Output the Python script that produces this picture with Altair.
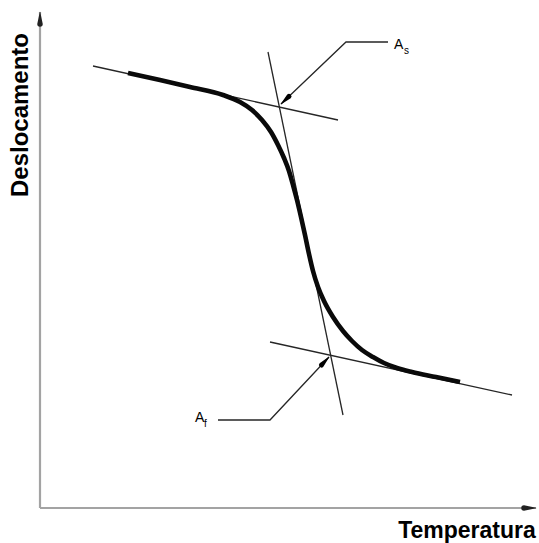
import math

import altair as alt
import pandas as pd

# Schematic transformation curve: displacement vs temperature (arbitrary units)
curve_t = [88, 120, 150, 183, 200, 212, 222, 231, 238, 244, 249, 253, 257, 261,
           265, 269, 273, 278, 284, 293, 303, 312, 322, 333, 344, 357, 372, 396, 420]
curve_d = [435, 428, 421, 413, 406, 398, 388, 376, 363, 350, 337, 323, 308, 291,
           273, 254, 237, 221, 207, 191, 177, 167, 158, 151, 145, 140, 136, 131, 126]

# Construction lines (tangents) as end points
upper_t, upper_d = [53, 298], [442, 388]
lower_t, lower_d = [230, 472], [166, 113]
steep_t, steep_d = [228, 303], [456, 93]

# Leader lines pointing at the two intersections (first point is the tip)
as_lead_t, as_lead_d = [241, 306, 348], [404, 466, 466]
af_lead_t, af_lead_d = [289, 230, 178], [151, 88, 88]

# Axes with arrows (first point is the tip)
yaxis_t, yaxis_d = [0, 0], [496, 0]
xaxis_t, xaxis_d = [496, 0], [0, 0]

X = alt.Scale(domain=[-40, 499], nice=False, zero=False)
Y = alt.Scale(domain=[-35, 508], nice=False, zero=False)


def line_layer(ts, ds, color, width, interp="linear"):
    df = pd.DataFrame({"t": ts, "d": ds, "o": range(len(ts))})
    return alt.Chart(df).mark_line(
        color=color, strokeWidth=width, interpolate=interp, strokeCap="butt"
    ).encode(
        x=alt.X("t:Q", scale=X, axis=None),
        y=alt.Y("d:Q", scale=Y, axis=None),
        order="o:Q",
    )


def arrow_head(ts, ds, color, length, width):
    """Tapered wedge at the first point of a polyline, pointing outward."""
    dt, dd = ts[1] - ts[0], ds[1] - ds[0]
    n = math.hypot(dt, dd)
    back_t = ts[0] + dt / n * length
    back_d = ds[0] + dd / n * length
    df = pd.DataFrame({"t": [ts[0], back_t], "d": [ds[0], back_d],
                       "w": [0.5, width], "o": [0, 1]})
    return alt.Chart(df).mark_trail(color=color).encode(
        x=alt.X("t:Q", scale=X, axis=None),
        y=alt.Y("d:Q", scale=Y, axis=None),
        size=alt.Size("w:Q", scale=None, legend=None),
        order="o:Q",
    )


def text_layer(label, t, d, size, weight="normal", angle=0, align="left"):
    df = pd.DataFrame({"t": [t], "d": [d], "label": [label]})
    return alt.Chart(df).mark_text(
        font="Liberation Sans", fontSize=size, fontWeight=weight,
        angle=angle, align=align, baseline="alphabetic", color="#000000",
    ).encode(
        x=alt.X("t:Q", scale=X, axis=None),
        y=alt.Y("d:Q", scale=Y, axis=None),
        text="label:N",
    )


axes = line_layer(yaxis_t, yaxis_d, "#a3a3a3", 2.2) + line_layer(xaxis_t, xaxis_d, "#a3a3a3", 2.2)

tangents = (
    line_layer(upper_t, upper_d, "#262626", 1.3)
    + line_layer(lower_t, lower_d, "#262626", 1.3)
    + line_layer(steep_t, steep_d, "#262626", 1.3)
)

leaders = line_layer(as_lead_t, as_lead_d, "#262626", 1.3) + line_layer(af_lead_t, af_lead_d, "#262626", 1.3)

curve = line_layer(curve_t, curve_d, "#0a0a0a", 4.6, interp="monotone")

arrows = (
    arrow_head(yaxis_t, yaxis_d, "#222222", 12, 5.5)
    + arrow_head(xaxis_t, xaxis_d, "#222222", 12, 5.5)
    + arrow_head(as_lead_t, as_lead_d, "#000000", 11, 5)
    + arrow_head(af_lead_t, af_lead_d, "#000000", 11, 5)
)

labels = (
    text_layer("Temperatura", 427, -30, 23, weight="bold", align="center")
    + text_layer("Deslocamento", -12, 393, 24, weight="bold", angle=270, align="center")
    + text_layer("A", 354, 459, 14)
    + text_layer("s", 364, 454, 10)
    + text_layer("A", 155, 86, 14)
    + text_layer("f", 164, 81, 10)
)

chart = (
    alt.layer(axes, tangents, leaders, curve, arrows, labels)
    .properties(width=539, height=543, padding=0, autosize=alt.AutoSizeParams(type="none"),
                background="white")
    .configure_view(stroke=None)
)

chart.save("out.html", embed_options={"renderer": "svg", "actions": False})
